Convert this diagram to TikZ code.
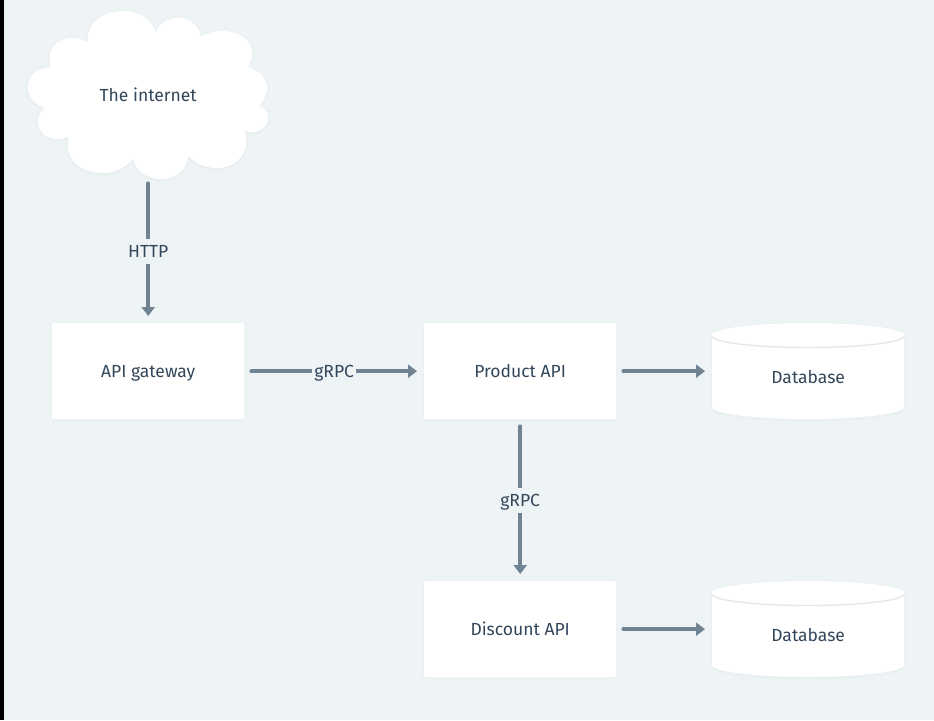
\documentclass[tikz,border=0pt]{standalone}
\usepackage{fontspec}
\setmainfont{Fira Sans}
\usepackage{xcolor}
\usetikzlibrary{matrix,arrows.meta}
\definecolor{pagebg}{HTML}{EEF3F6}
\definecolor{ink}{HTML}{33475B}
\definecolor{linkgray}{HTML}{708392}
\definecolor{rimgray}{HTML}{E3E9ED}
\definecolor{softgray}{HTML}{7A8C99}
\tikzset{
	soft/.style={preaction={draw=softgray,line width=5pt,draw opacity=.008,transform canvas={yshift=-1pt}},
		preaction={draw=softgray,line width=3pt,draw opacity=.012,transform canvas={yshift=-1pt}},
		preaction={draw=softgray,line width=1.2pt,draw opacity=.012,transform canvas={yshift=-1pt}}},
	box/.style={fill=white,rounded corners=1pt},
	link/.style={draw=linkgray,line width=4pt,line cap=round,-{Triangle[length=9pt,width=13pt]},shorten <=7pt,shorten >=7pt},
	tag/.style={fill=pagebg,text=ink,font=\fontsize{17.5}{17.5}\selectfont,text height=12pt,text depth=0pt,inner xsep=2pt,inner ysep=0pt,minimum height=25pt}
}
\begin{document}
\begin{tikzpicture}[x=1pt,y=-1pt]
	\useasboundingbox (0,0) rectangle (934,720);
	\fill[pagebg] (0,0) rectangle (934,720);
	\fill[black] (0,0) rectangle (4,720);
	% cloud
	\fill[white,soft] (88,42) .. controls (86,22) and (104,11) .. (123,11) .. controls (140,11) and (152,20) .. (156,32)
		.. controls (160,23) and (168,18) .. (178,18) .. controls (190,18) and (199,26) .. (201,37)
		.. controls (207,33) and (214,31) .. (222,31) .. controls (240,31) and (252,41) .. (252,52) .. controls (252,58) and (251,63) .. (248,67)
		.. controls (260,71) and (267,79) .. (267,88) .. controls (267,95) and (264,101) .. (259,106)
		.. controls (265,108) and (268,113) .. (268,118) .. controls (268,126) and (261,132) .. (252,132) .. controls (249,132) and (247,132) .. (245,131)
		.. controls (246,135) and (246,139) .. (246,143) .. controls (246,157) and (233,168) .. (217,168) .. controls (205,168) and (194,163) .. (188,155)
		.. controls (188,169) and (176,179) .. (162,179) .. controls (147,179) and (135,171) .. (133,159)
		.. controls (125,168) and (115,173) .. (103,173) .. controls (83,173) and (68,162) .. (68,147) .. controls (68,143) and (68,140) .. (68,137)
		.. controls (65,138) and (61,139) .. (57,139) .. controls (46,139) and (38,131) .. (38,122) .. controls (38,116) and (41,111) .. (45,108)
		.. controls (35,105) and (28,97) .. (28,88) .. controls (28,76) and (37,68) .. (50,68)
		.. controls (50,64) and (50,60) .. (50,55) .. controls (50,46) and (60,38) .. (72,38) .. controls (78,38) and (84,40) .. (88,42) -- cycle;
	% shadows under the boxes
	\foreach \x/\y in {52/323,424/323,424/581}
		\fill[white,soft,rounded corners=1pt] (\x,\y) rectangle (\x+192,\y+96);
	% databases
	\foreach \y in {323,581}{
		\fill[white,soft] (712,\y+12) arc[start angle=180,end angle=0,x radius=96,y radius=-12]
			-- (904,\y+84) arc[start angle=0,end angle=-180,x radius=96,y radius=-12] -- cycle;
		\draw[rimgray,line width=1.4pt] (712,\y+13) arc[start angle=180,end angle=360,x radius=96,y radius=-11.5];
	}
	\matrix(grid)[matrix of nodes, anchor=north west, inner sep=0pt, column sep=96pt, row sep=0pt,
		nodes={anchor=center, text=ink, font=\fontsize{17.5}{17.5}\selectfont, text height=12pt, text depth=0pt, inner sep=0pt, minimum width=192pt, minimum height=96pt}] at (28,11) {
		|(internet)[minimum width=240pt, minimum height=168pt]|The internet &[60pt] & \\[144pt]
		|(gateway)[box]|API gateway & |(product)[box]|Product API & |(dbproduct)[text height=24pt]|Database \\[162pt]
		& |(discount)[box]|Discount API & |(dbdiscount)[text height=24pt]|Database \\
	};
	\draw[link,shorten <=4pt] (internet) -- node[tag]{HTTP} (gateway);
	\draw[link] (gateway) -- node[tag]{gRPC} (product);
	\draw[link] (product) -- node[tag]{gRPC} (discount);
	\draw[link] (product) -- (dbproduct);
	\draw[link] (discount) -- (dbdiscount);
\end{tikzpicture}
\end{document}
